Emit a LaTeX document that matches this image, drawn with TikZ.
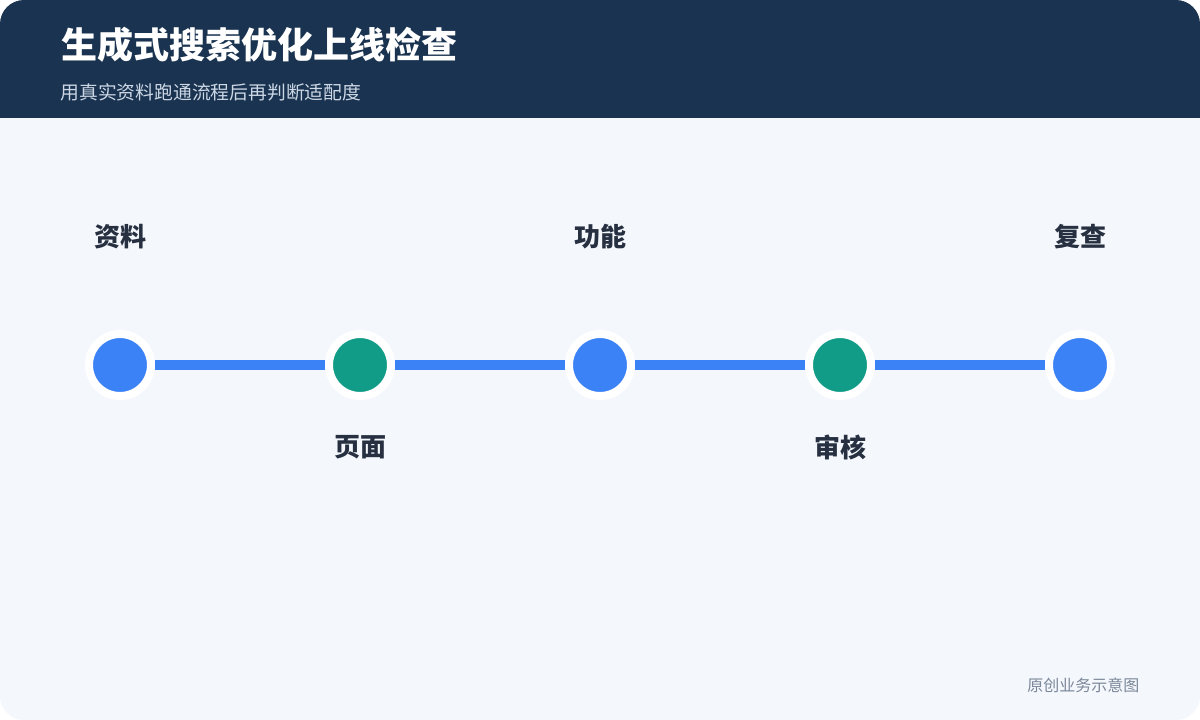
\documentclass[tikz,border=0pt]{standalone}
\usepackage{fontspec}
\setmainfont{Noto Sans CJK SC}
\usetikzlibrary{positioning}

\definecolor{headnavy}{HTML}{1A3350}
\definecolor{cardbg}{HTML}{F4F8FD}
\definecolor{stepblue}{HTML}{3B82F6}
\definecolor{stepteal}{HTML}{119C88}
\definecolor{labeldark}{HTML}{263040}
\definecolor{subgray}{HTML}{CDD8E6}
\definecolor{notegray}{HTML}{7B8799}

\begin{document}
\begin{tikzpicture}[x=1pt,y=-1pt,
    dot/.style={circle,inner sep=0pt,minimum size=62pt,line width=8pt,draw=white,fill=stepblue},
    tealdot/.style={dot,fill=stepteal},
    steplabel/.style={text=labeldark,font=\fontsize{26}{30}\selectfont\bfseries},
    link/.style={line width=10pt,stepblue}]
    \fill[white] (0,0) rectangle (1200,720);
    \fill[cardbg,rounded corners=24pt] (0,0) rectangle (1200,720);
    \begin{scope}
        \clip[rounded corners=24pt] (0,0) rectangle (1200,720);
        \fill[headnavy] (0,0) rectangle (1200,118);
    \end{scope}

    \node[anchor=west,text=white,font=\fontsize{36}{40}\selectfont\bfseries] (title) at (58,45) {生成式搜索优化上线检查};
    \node[anchor=west,text=subgray,font=\fontsize{18.8}{22}\selectfont] (subtitle) at (57,92) {用真实资料跑通流程后再判断适配度};

    \node[dot] (s1) at (120,365) {};
    \node[tealdot] (s2) at (360,365) {};
    \node[dot] (s3) at (600,365) {};
    \node[tealdot] (s4) at (840,365) {};
    \node[dot] (s5) at (1080,365) {};

    \draw[link] (s1) -- (s2);
    \draw[link] (s2) -- (s3);
    \draw[link] (s3) -- (s4);
    \draw[link] (s4) -- (s5);

    \node[steplabel] (l1) at (120,237) {资料};
    \node[steplabel] (l2) at (360,447) {页面};
    \node[steplabel] (l3) at (600,237) {功能};
    \node[steplabel] (l4) at (840,447) {审核};
    \node[steplabel] (l5) at (1080,237) {复查};

    \node[anchor=east,text=notegray,font=\fontsize{16}{18}\selectfont] (note) at (1143,685) {原创业务示意图};
\end{tikzpicture}
\end{document}
